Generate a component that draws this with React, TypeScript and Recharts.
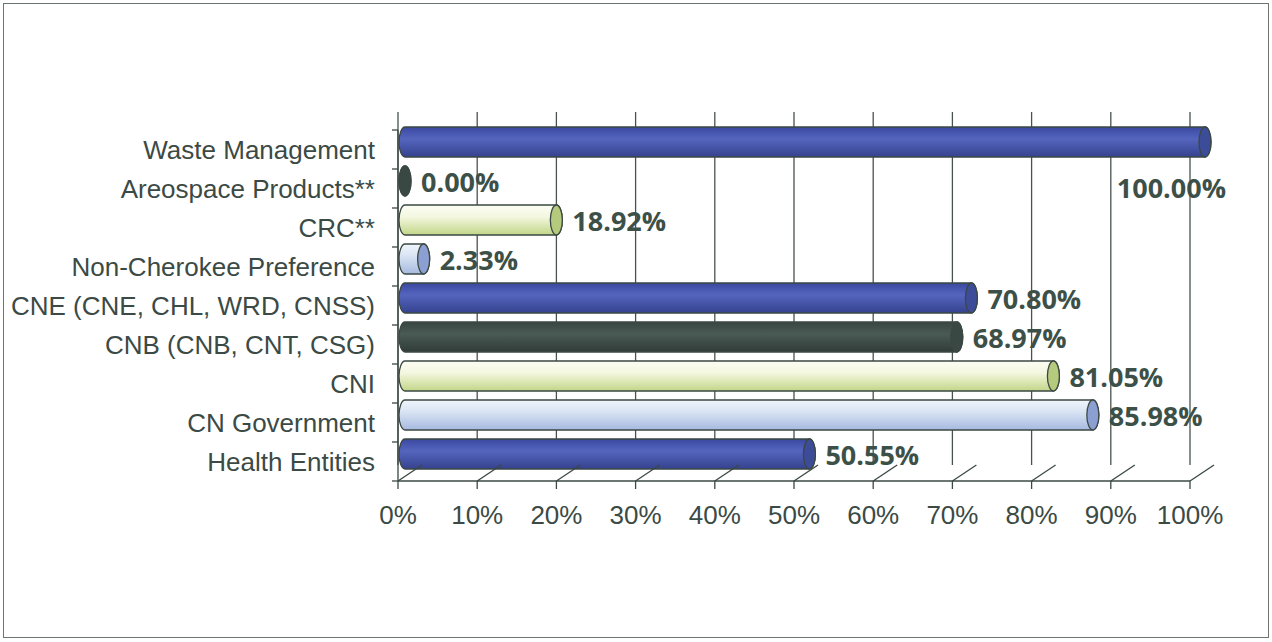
import { BarChart, Bar, XAxis, YAxis, CartesianGrid, LabelList, Cell } from "recharts"

const categories = [
  "Waste Management",
  "Areospace Products**",
  "CRC**",
  "Non-Cherokee Preference",
  "CNE (CNE, CHL, WRD, CNSS)",
  "CNB (CNB, CNT, CSG)",
  "CNI",
  "CN Government",
  "Health Entities",
]
const shares = [1.0, 0.0, 0.1892, 0.0233, 0.708, 0.6897, 0.8105, 0.8598, 0.5055]
const xTicks = [0, 0.1, 0.2, 0.3, 0.4, 0.5, 0.6, 0.7, 0.8, 0.9, 1]

const data = categories.map((name, i) => ({ name, value: shares[i] }))

// 4 cylinder styles, cycled by point (Excel "vary colors by point")
const palette = [
  { id: "cylBlue", stops: ["#3a48a0", "#5565bd", "#35428f"], cap: "#3d4c98" },
  { id: "cylDark", stops: ["#394641", "#4a5a54", "#303c37"], cap: "#3a4843" },
  { id: "cylCream", stops: ["#fdfdf4", "#f3f7df", "#c2d687"], cap: "#b6ca7e" },
  { id: "cylSky", stops: ["#f1f5fc", "#d8e3f3", "#a6b9df"], cap: "#8c9fd2" },
]

const INK = "#3b4843"
const LIFT = 8
// 3D depth: back wall sits this far right of the front floor edge
const DEPTH_X = 24

function Cylinder(props: any) {
  const { x, y, width, height, index } = props
  const c = palette[index % palette.length]
  const w = Math.max(0, width || 0)
  const yt = y - LIFT
  const ry = height / 2
  const rx = 6
  const x1 = x + w
  const d = `M ${x} ${yt} L ${x1} ${yt} A ${rx} ${ry} 0 0 1 ${x1} ${yt + height} L ${x} ${yt + height} A ${rx} ${ry} 0 0 1 ${x} ${yt} Z`
  return (
    <g>
      <path d={d} fill={`url(#${c.id})`} stroke={INK} strokeWidth={1.3} />
      <ellipse cx={x1} cy={yt + ry} rx={rx} ry={ry} fill={c.cap} stroke={INK} strokeWidth={1.3} />
    </g>
  )
}

function ValueLabel(props: any) {
  const { x, y, width, height, value } = props
  const end = x + (width || 0)
  const cy = y + height / 2 - LIFT
  const text = `${(Number(value) * 100).toFixed(2)}%`
  const style = { fontFamily: "'Open Sans', sans-serif", fontWeight: 700, fontSize: 27, fill: "#3d5048" }
  if (value >= 1) {
    return (
      <text x={end + 21} y={cy + 45} textAnchor="end" dominantBaseline="central" style={style}>
        {text}
      </text>
    )
  }
  return (
    <text x={end + 16} y={cy} textAnchor="start" dominantBaseline="central" style={style}>
      {text}
    </text>
  )
}

function CategoryTick(props: any) {
  const { x, y, payload, index, visibleTicksCount } = props
  const half = 19.5
  return (
    <g>
      <line x1={x + 17} x2={x + 23} y1={y - half} y2={y - half} stroke={INK} strokeWidth={1.3} />
      {index === visibleTicksCount - 1 && (
        <line x1={x + 17} x2={x + 23} y1={y + half} y2={y + half} stroke={INK} strokeWidth={1.3} />
      )}
      <text
        x={x}
        y={y}
        textAnchor="end"
        dominantBaseline="central"
        style={{ fontFamily: "'Liberation Sans', Arial, sans-serif", fontSize: 26, fill: "#3b4a45" }}
      >
        {payload.value}
      </text>
    </g>
  )
}

// front floor edge: tick, label and the depth diagonal back to the wall
function PercentTick(props: any) {
  const { x, y, payload } = props
  return (
    <g>
      <line x1={x} x2={x + DEPTH_X} y1={y} y2={y - 16} stroke={INK} strokeWidth={1.3} />
      <line x1={x} x2={x} y1={y} y2={y + 8} stroke={INK} strokeWidth={1.3} />
      <text
        x={x}
        y={y + 34}
        textAnchor="middle"
        dominantBaseline="central"
        style={{ fontFamily: "'Liberation Sans', Arial, sans-serif", fontSize: 26, fill: "#3b4a45" }}
      >
        {`${Math.round(payload.value * 100)}%`}
      </text>
    </g>
  )
}

export default function App() {
  return (
    <div style={{ position: "absolute", left: 0, top: 0, width: 1272, height: 642, background: "#fff" }}>
      <div
        style={{
          position: "absolute",
          left: 3,
          top: 3,
          width: 1266,
          height: 635,
          border: "1.5px solid #6c7772",
          boxSizing: "border-box",
        }}
      />
      <div style={{ position: "absolute", left: 0, top: 0 }}>
        <BarChart
          width={1272}
          height={642}
          data={data}
          layout="vertical"
          margin={{ top: 130, right: 82, left: 8, bottom: 101 }}
          barCategoryGap={0}
        >
          <defs>
            {palette.map((c) => (
              <linearGradient key={c.id} id={c.id} x1="0" y1="0" x2="0" y2="1">
                <stop offset="0%" stopColor={c.stops[0]} />
                <stop offset="40%" stopColor={c.stops[1]} />
                <stop offset="100%" stopColor={c.stops[2]} />
              </linearGradient>
            ))}
          </defs>
          <XAxis
            xAxisId="ticks"
            type="number"
            domain={[0, 1]}
            allowDataOverflow
            ticks={xTicks}
            height={60}
            tickSize={0}
            tickMargin={0}
            interval={0}
            axisLine={{ stroke: INK, strokeWidth: 1.3 }}
            tick={<PercentTick />}
          />
          <XAxis
            xAxisId="bars"
            type="number"
            domain={[0, 1]}
            ticks={xTicks}
            hide
            height={0}
            padding={{ left: 7, right: -15 }}
          />
          <YAxis
            type="category"
            dataKey="name"
            width={390}
            tickSize={0}
            tickMargin={23}
            interval={0}
            axisLine={{ stroke: INK, strokeWidth: 1.3 }}
            tick={<CategoryTick />}
          />
          {/* back wall: front gridlines pushed back by the depth offset */}
          <g transform={`translate(${DEPTH_X} 0)`}>
            <CartesianGrid
              xAxisId="ticks"
              horizontal={false}
              y={112}
              height={353}
              stroke="#48534e"
              strokeWidth={1.3}
            />
          </g>
          <Bar dataKey="value" xAxisId="bars" barSize={30} shape={<Cylinder />} isAnimationActive={false}>
            {data.map((d) => (
              <Cell key={d.name} />
            ))}
            <LabelList dataKey="value" content={<ValueLabel />} />
          </Bar>
        </BarChart>
      </div>
    </div>
  )
}
